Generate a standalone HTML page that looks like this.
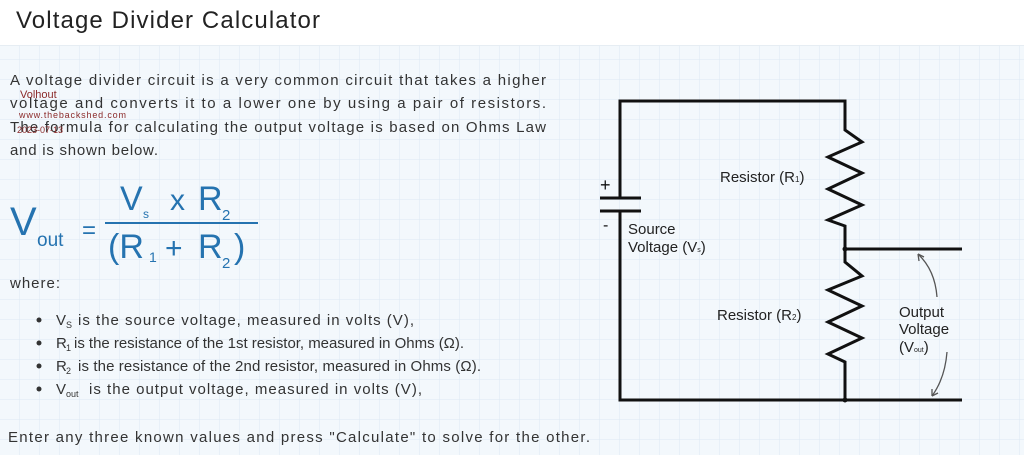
<!DOCTYPE html>
<html><head><meta charset="utf-8"><style>
html,body{margin:0;padding:0;width:1024px;height:455px;overflow:hidden;background:#fff}
svg{display:block}
.t{font-family:"Comic Sans MS","Liberation Sans",sans-serif;fill:#333;font-size:15px}
.f{font-family:"Liberation Sans",sans-serif;fill:#2573b0}
.c{font-family:"Liberation Sans",sans-serif;fill:#222;font-size:15px}
.s{font-size:9px}
</style></head><body>
<svg width="1024" height="455" viewBox="0 0 1024 455" xmlns="http://www.w3.org/2000/svg">
<defs>
<pattern id="g" width="20" height="20" patternUnits="userSpaceOnUse">
<rect width="20" height="20" fill="#f3f8fc"/>
<path d="M20 0V20M0 20H20" stroke="#dde9f3" stroke-width="1"/>
</pattern>
</defs>
<rect width="1024" height="455" fill="url(#g)"/>
<rect width="1024" height="45" fill="#fff"/>
<line x1="0" y1="45.5" x2="1024" y2="45.5" stroke="#e6edf3"/>
<text x="16" y="28" font-family="Liberation Sans,sans-serif" font-size="24" fill="#222" textLength="304">Voltage Divider Calculator</text>

<text class="t" x="10" y="85" textLength="536">A voltage divider circuit is a very common circuit that takes a higher</text>
<text class="t" x="10" y="108" textLength="536">voltage and converts it to a lower one by using a pair of resistors.</text>
<text class="t" x="10" y="132" textLength="536">The formula for calculating the output voltage is based on Ohms Law</text>
<text class="t" x="10" y="155" textLength="148">and is shown below.</text>
<text x="20" y="98" font-family="Liberation Sans,sans-serif" font-size="11" fill="#8b2a2a">Volhout</text>
<text x="19" y="118" font-family="Liberation Sans,sans-serif" font-size="9" fill="#8b2a2a" textLength="107">www.thebackshed.com</text>
<text x="17" y="133" font-family="Liberation Sans,sans-serif" font-size="9" fill="#8b2a2a">2023-07-13</text>

<text class="f" x="10" y="235" font-size="40">V</text>
<text class="f" x="37" y="246" font-size="19">out</text>
<text class="f" x="82" y="238" font-size="24">=</text>
<text class="f" x="120" y="210" font-size="34">V</text>
<text class="f" x="143" y="218" font-size="12">s</text>
<text class="f" x="170" y="210" font-size="30">x</text>
<text class="f" x="198" y="210" font-size="34">R</text>
<text class="f" x="222" y="220" font-size="15">2</text>
<line x1="105" y1="223" x2="258" y2="223" stroke="#2573b0" stroke-width="2"/>
<text class="f" x="108" y="258" font-size="34">(R</text>
<text class="f" x="149" y="262" font-size="14">1</text>
<text class="f" x="165" y="258" font-size="30">+</text>
<text class="f" x="198" y="258" font-size="34">R</text>
<text class="f" x="222" y="268" font-size="15">2</text>
<text class="f" x="234" y="258" font-size="34">)</text>

<text class="t" x="10" y="288" textLength="50">where:</text>
<circle cx="39" cy="320" r="2.5" fill="#333"/><circle cx="39" cy="343" r="2.5" fill="#333"/><circle cx="39" cy="366" r="2.5" fill="#333"/><circle cx="39" cy="389" r="2.5" fill="#333"/>
<text class="t" x="56" y="325">V</text><text class="t s" x="66" y="328">S</text>
<text class="t" x="78" y="325" textLength="336">is the source voltage, measured in volts (V),</text>
<text class="t" x="56" y="348">R</text><text class="t s" x="66" y="351">1</text>
<text class="t" x="74" y="348" textLength="390">is the resistance of the 1st resistor, measured in Ohms (Ω).</text>
<text class="t" x="56" y="371">R</text><text class="t s" x="66" y="374">2</text>
<text class="t" x="78" y="371" textLength="403">is the resistance of the 2nd resistor, measured in Ohms (Ω).</text>
<text class="t" x="56" y="394">V</text><text class="t s" x="66" y="397">out</text>
<text class="t" x="89" y="394" textLength="333">is the output voltage, measured in volts (V),</text>
<text class="t" x="8" y="442" textLength="582">Enter any three known values and press "Calculate" to solve for the other.</text>

<g stroke="#111" stroke-width="3" fill="none" stroke-linejoin="miter">
<path d="M620 198V101H845V130L862 142L828 157L862 173L828 189L862 205L828 220L845 226V249"/>
<path d="M845 249H962"/>
<path d="M845 249V262L862 276L828 290L862 306L828 322L862 338L828 354L845 362V400"/>
<path d="M620 211V400H962"/>
<path d="M600 198H641M600 211H641"/>
</g>
<circle cx="845" cy="249" r="2.5" fill="#111"/>
<circle cx="845" cy="400" r="2.5" fill="#111"/>
<text x="600" y="191" font-family="Liberation Sans,sans-serif" font-size="18" fill="#111">+</text>
<text x="603" y="230" font-family="Liberation Sans,sans-serif" font-size="16" fill="#111">-</text>
<text class="c" x="628" y="234">Source</text>
<text class="c" x="628" y="252">Voltage (V<tspan style="font-size:7px">s</tspan>)</text>
<text class="c" x="720" y="182">Resistor (R<tspan style="font-size:8px">1</tspan>)</text>
<text class="c" x="717" y="320">Resistor (R<tspan style="font-size:8px">2</tspan>)</text>
<text class="c" x="899" y="317">Output</text>
<text class="c" x="899" y="334">Voltage</text>
<text class="c" x="899" y="352">(V<tspan style="font-size:7px">out</tspan>)</text>
<g stroke="#555" stroke-width="1.3" fill="none">
<path d="M937 297Q935 270 918 254"/><path d="M918 254l1 7M918 254l6 3"/>
<path d="M947 352Q945 378 932 396"/><path d="M932 396l0-7M932 396l6-3"/>
</g>
</svg>
</body></html>
